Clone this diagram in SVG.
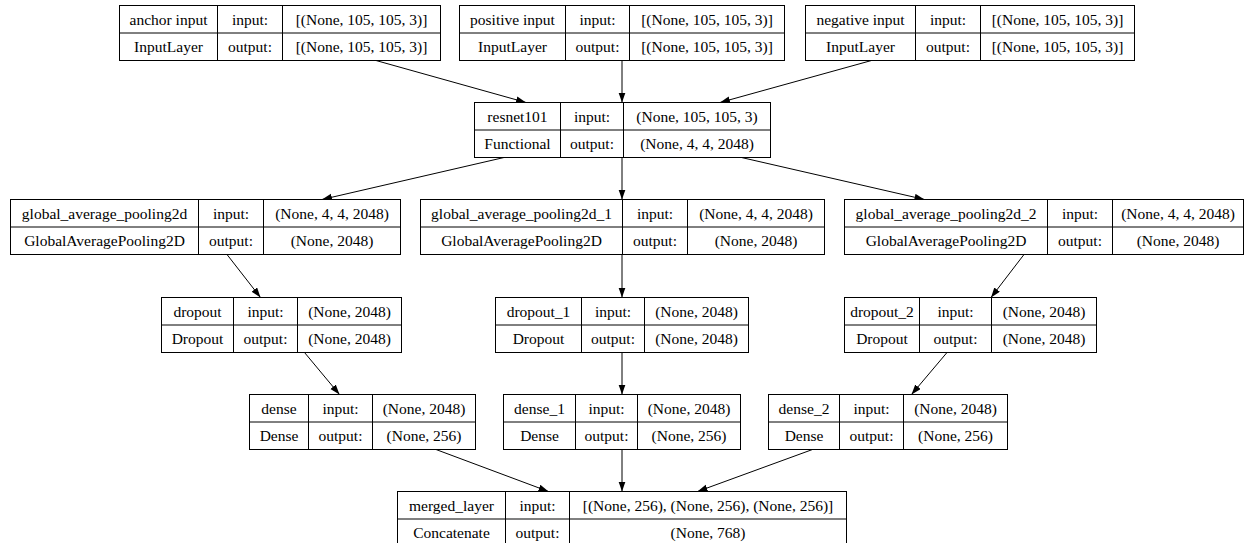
<svg xmlns="http://www.w3.org/2000/svg" width="1249" height="543" viewBox="0 0 1249 543">
  <style>
    .box { fill: #ffffff; stroke: #000000; stroke-width: 1; }
    .grid { fill: none; stroke: #000000; stroke-width: 1; }
    .edge { fill: none; stroke: #000000; stroke-width: 1; marker-end: url(#arrow); }
    text { font-family: "Liberation Serif", "Times New Roman", serif; font-size: 15.5px; fill: #000000; text-anchor: middle; }
  </style>
  <defs>
    <marker id="arrow" markerUnits="userSpaceOnUse" markerWidth="10" markerHeight="8" refX="10" refY="3.5" orient="auto">
      <path d="M0,0 L10,3.5 L0,7 Z" fill="#000000"/>
    </marker>
  </defs>
  <rect width="1249" height="543" fill="#ffffff"/>

  <!-- connectors -->
  <g id="edges">
    <path class="edge" d="M376,60.5 L526,102.5"/>
    <path class="edge" d="M622,60.5 L622,102.5"/>
    <path class="edge" d="M871.5,60.5 L720,102.5"/>
    <path class="edge" d="M504,157.5 L322,199.5"/>
    <path class="edge" d="M622,157.5 L622,199.5"/>
    <path class="edge" d="M741.5,157.5 L924.5,199.5"/>
    <path class="edge" d="M227,254.5 L260.5,297.5"/>
    <path class="edge" d="M622,254.5 L622,297.5"/>
    <path class="edge" d="M1024,254.5 L991,297.5"/>
    <path class="edge" d="M304.5,352.5 L339.5,394.5"/>
    <path class="edge" d="M622,352.5 L622,394.5"/>
    <path class="edge" d="M947,352.5 L911.5,394.5"/>
    <path class="edge" d="M436,449.5 L548.5,491.5"/>
    <path class="edge" d="M622,449.5 L622,491.5"/>
    <path class="edge" d="M812.5,449.5 L697.5,491.5"/>
  </g>

  <!-- row 1: inputs -->
  <g id="anchor_input">
    <rect class="box" x="119.5" y="5.5" width="321" height="55"/>
    <path class="grid" d="M217.5,5.5 V60.5 M282.5,5.5 V60.5 M119.5,33 H440.5"/>
    <text x="168.5" y="24.5">anchor input</text>
    <text x="250" y="24.5">input:</text>
    <text x="361.5" y="24.5">[(None, 105, 105, 3)]</text>
    <text x="168.5" y="52">InputLayer</text>
    <text x="250" y="52">output:</text>
    <text x="361.5" y="52">[(None, 105, 105, 3)]</text>
  </g>
  <g id="positive_input">
    <rect class="box" x="459.5" y="5.5" width="325" height="55"/>
    <path class="grid" d="M565.5,5.5 V60.5 M629.5,5.5 V60.5 M459.5,33 H784.5"/>
    <text x="512.5" y="24.5">positive input</text>
    <text x="597.5" y="24.5">input:</text>
    <text x="707" y="24.5">[(None, 105, 105, 3)]</text>
    <text x="512.5" y="52">InputLayer</text>
    <text x="597.5" y="52">output:</text>
    <text x="707" y="52">[(None, 105, 105, 3)]</text>
  </g>
  <g id="negative_input">
    <rect class="box" x="805.5" y="5.5" width="329" height="55"/>
    <path class="grid" d="M915.5,5.5 V60.5 M980.5,5.5 V60.5 M805.5,33 H1134.5"/>
    <text x="860.5" y="24.5">negative input</text>
    <text x="948" y="24.5">input:</text>
    <text x="1057.5" y="24.5">[(None, 105, 105, 3)]</text>
    <text x="860.5" y="52">InputLayer</text>
    <text x="948" y="52">output:</text>
    <text x="1057.5" y="52">[(None, 105, 105, 3)]</text>
  </g>

  <!-- row 2: backbone -->
  <g id="resnet101">
    <rect class="box" x="474.5" y="102.5" width="296" height="55"/>
    <path class="grid" d="M560.5,102.5 V157.5 M623.5,102.5 V157.5 M474.5,130 H770.5"/>
    <text x="517.5" y="121.5">resnet101</text>
    <text x="592" y="121.5">input:</text>
    <text x="697" y="121.5">(None, 105, 105, 3)</text>
    <text x="517.5" y="149">Functional</text>
    <text x="592" y="149">output:</text>
    <text x="697" y="149">(None, 4, 4, 2048)</text>
  </g>

  <!-- row 3: pooling -->
  <g id="global_average_pooling2d">
    <rect class="box" x="10.5" y="199.5" width="390" height="55"/>
    <path class="grid" d="M198.5,199.5 V254.5 M263.5,199.5 V254.5 M10.5,227 H400.5"/>
    <text x="104.5" y="218.5">global_average_pooling2d</text>
    <text x="231" y="218.5">input:</text>
    <text x="332" y="218.5">(None, 4, 4, 2048)</text>
    <text x="104.5" y="246">GlobalAveragePooling2D</text>
    <text x="231" y="246">output:</text>
    <text x="332" y="246">(None, 2048)</text>
  </g>
  <g id="global_average_pooling2d_1">
    <rect class="box" x="420.5" y="199.5" width="404" height="55"/>
    <path class="grid" d="M622.5,199.5 V254.5 M687.5,199.5 V254.5 M420.5,227 H824.5"/>
    <text x="521.5" y="218.5">global_average_pooling2d_1</text>
    <text x="655" y="218.5">input:</text>
    <text x="756" y="218.5">(None, 4, 4, 2048)</text>
    <text x="521.5" y="246">GlobalAveragePooling2D</text>
    <text x="655" y="246">output:</text>
    <text x="756" y="246">(None, 2048)</text>
  </g>
  <g id="global_average_pooling2d_2">
    <rect class="box" x="844.5" y="199.5" width="399" height="55"/>
    <path class="grid" d="M1047.5,199.5 V254.5 M1112.5,199.5 V254.5 M844.5,227 H1243.5"/>
    <text x="946" y="218.5">global_average_pooling2d_2</text>
    <text x="1080" y="218.5">input:</text>
    <text x="1178" y="218.5">(None, 4, 4, 2048)</text>
    <text x="946" y="246">GlobalAveragePooling2D</text>
    <text x="1080" y="246">output:</text>
    <text x="1178" y="246">(None, 2048)</text>
  </g>

  <!-- row 4: dropout -->
  <g id="dropout">
    <rect class="box" x="161.5" y="297.5" width="240" height="55"/>
    <path class="grid" d="M233.5,297.5 V352.5 M297.5,297.5 V352.5 M161.5,325 H401.5"/>
    <text x="197.5" y="316.5">dropout</text>
    <text x="265.5" y="316.5">input:</text>
    <text x="349.5" y="316.5">(None, 2048)</text>
    <text x="197.5" y="344">Dropout</text>
    <text x="265.5" y="344">output:</text>
    <text x="349.5" y="344">(None, 2048)</text>
  </g>
  <g id="dropout_1">
    <rect class="box" x="495.5" y="297.5" width="253" height="55"/>
    <path class="grid" d="M581.5,297.5 V352.5 M644.5,297.5 V352.5 M495.5,325 H748.5"/>
    <text x="538.5" y="316.5">dropout_1</text>
    <text x="613" y="316.5">input:</text>
    <text x="696.5" y="316.5">(None, 2048)</text>
    <text x="538.5" y="344">Dropout</text>
    <text x="613" y="344">output:</text>
    <text x="696.5" y="344">(None, 2048)</text>
  </g>
  <g id="dropout_2">
    <rect class="box" x="844.5" y="297.5" width="252" height="55"/>
    <path class="grid" d="M919.5,297.5 V352.5 M991.5,297.5 V352.5 M844.5,325 H1096.5"/>
    <text x="882" y="316.5">dropout_2</text>
    <text x="955.5" y="316.5">input:</text>
    <text x="1044" y="316.5">(None, 2048)</text>
    <text x="882" y="344">Dropout</text>
    <text x="955.5" y="344">output:</text>
    <text x="1044" y="344">(None, 2048)</text>
  </g>

  <!-- row 5: dense -->
  <g id="dense">
    <rect class="box" x="249.5" y="394.5" width="226" height="55"/>
    <path class="grid" d="M308.5,394.5 V449.5 M372.5,394.5 V449.5 M249.5,422 H475.5"/>
    <text x="279" y="413.5">dense</text>
    <text x="340.5" y="413.5">input:</text>
    <text x="424" y="413.5">(None, 2048)</text>
    <text x="279" y="441">Dense</text>
    <text x="340.5" y="441">output:</text>
    <text x="424" y="441">(None, 256)</text>
  </g>
  <g id="dense_1">
    <rect class="box" x="503.5" y="394.5" width="237" height="55"/>
    <path class="grid" d="M575.5,394.5 V449.5 M637.5,394.5 V449.5 M503.5,422 H740.5"/>
    <text x="539.5" y="413.5">dense_1</text>
    <text x="606.5" y="413.5">input:</text>
    <text x="689" y="413.5">(None, 2048)</text>
    <text x="539.5" y="441">Dense</text>
    <text x="606.5" y="441">output:</text>
    <text x="689" y="441">(None, 256)</text>
  </g>
  <g id="dense_2">
    <rect class="box" x="768.5" y="394.5" width="239" height="55"/>
    <path class="grid" d="M839.5,394.5 V449.5 M903.5,394.5 V449.5 M768.5,422 H1007.5"/>
    <text x="804" y="413.5">dense_2</text>
    <text x="871.5" y="413.5">input:</text>
    <text x="955.5" y="413.5">(None, 2048)</text>
    <text x="804" y="441">Dense</text>
    <text x="871.5" y="441">output:</text>
    <text x="955.5" y="441">(None, 256)</text>
  </g>

  <!-- row 6: concatenation -->
  <g id="merged_layer">
    <rect class="box" x="397.5" y="491.5" width="449" height="55"/>
    <path class="grid" d="M505.5,491.5 V546.5 M569.5,491.5 V546.5 M397.5,519 H846.5"/>
    <text x="451.5" y="510.5">merged_layer</text>
    <text x="537.5" y="510.5">input:</text>
    <text x="708" y="510.5">[(None, 256), (None, 256), (None, 256)]</text>
    <text x="451.5" y="538">Concatenate</text>
    <text x="537.5" y="538">output:</text>
    <text x="708" y="538">(None, 768)</text>
  </g>
</svg>
